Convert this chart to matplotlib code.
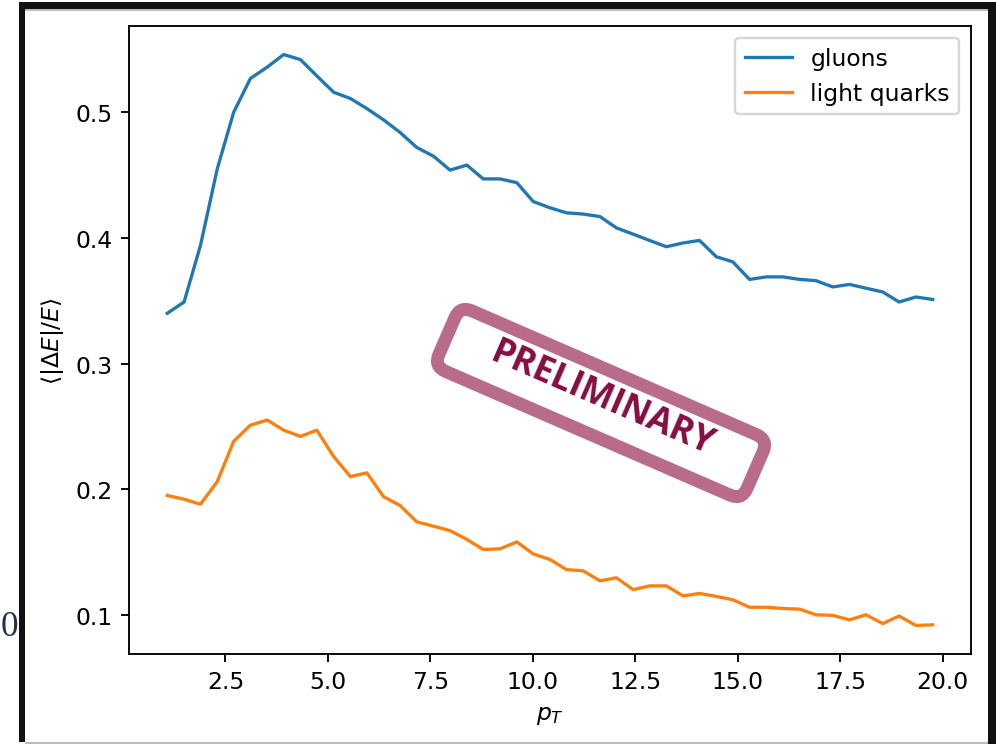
import numpy as np
import matplotlib
matplotlib.use("Agg")
import matplotlib.pyplot as plt
from matplotlib.patches import FancyBboxPatch, Rectangle
from matplotlib.transforms import Affine2D

# ─────────────────────────────────────────────
# DATA  (mean relative energy loss per pT bin)
# ─────────────────────────────────────────────

pt_bins = [1.08, 1.49, 1.89, 2.30, 2.70, 3.11, 3.52, 3.92, 4.33, 4.73,
           5.14, 5.55, 5.95, 6.36, 6.76, 7.17, 7.58, 7.98, 8.39, 8.79,
           9.20, 9.61, 10.01, 10.42, 10.82, 11.23, 11.64, 12.04, 12.45, 12.85,
           13.26, 13.67, 14.07, 14.48, 14.88, 15.29, 15.70, 16.10, 16.51, 16.91,
           17.32, 17.73, 18.13, 18.54, 18.94, 19.35, 19.76]

gluons = [0.340, 0.349, 0.394, 0.455, 0.500, 0.527, 0.536, 0.546, 0.542, 0.529,
          0.516, 0.511, 0.503, 0.494, 0.484, 0.472, 0.465, 0.454, 0.458, 0.447,
          0.447, 0.444, 0.429, 0.424, 0.420, 0.419, 0.417, 0.408, 0.403, 0.398,
          0.393, 0.396, 0.398, 0.385, 0.381, 0.367, 0.369, 0.369, 0.367, 0.366,
          0.361, 0.363, 0.360, 0.357, 0.349, 0.353, 0.351]

light_quarks = [0.195, 0.192, 0.188, 0.206, 0.238, 0.251, 0.255, 0.247, 0.242, 0.247,
                0.226, 0.210, 0.213, 0.194, 0.187, 0.174, 0.1705, 0.167, 0.160, 0.152,
                0.1525, 0.158, 0.1485, 0.144, 0.136, 0.135, 0.127, 0.1295, 0.120, 0.123,
                0.123, 0.115, 0.117, 0.1146, 0.112, 0.106, 0.106, 0.105, 0.1045, 0.100,
                0.0995, 0.096, 0.100, 0.093, 0.099, 0.0915, 0.092]

# ─────────────────────────────────────────────
# FIGURE
# ─────────────────────────────────────────────

DPI = 169
W, H = 996, 745

fig = plt.figure(figsize=(W / DPI, H / DPI), dpi=DPI)
fig.patch.set_facecolor("white")

ax = fig.add_axes([129 / W, (H - 655) / H, 842 / W, 628 / H])
ax.plot(pt_bins, gluons, label="gluons", lw=1.4)
ax.plot(pt_bins, light_quarks, label="light quarks", lw=1.4)
ax.set_xlabel(r"$p_T$")
ax.set_ylabel(r"$\langle |\Delta E|/E \rangle$")
ax.legend(loc="upper right")

# pixel-space transform (origin top-left)
pix = Affine2D().scale(1, -1).translate(0, H).scale(1 / DPI) + fig.dpi_scale_trans


def frame_rect(x0, y0, x1, y1, color):
    fig.add_artist(Rectangle((x0, y0), x1 - x0, y1 - y0, transform=pix,
                             facecolor=color, edgecolor="none", zorder=5))


# window border around the plot
frame_rect(19, 3, W, 10, "#111111")
frame_rect(19, 3, 25, 743, "#111111")
frame_rect(988, 3, W, H, "#111111")
frame_rect(25, 10, 988, 11.5, "#bbbbbb")
frame_rect(25, 742.5, 988, H, "#bbbbbb")

fig.text(0.5 / W, (H - 628) / H, "0", ha="left", va="center",
         family="Liberation Serif", fontsize=15, color="#1f2f4f")

# ── "PRELIMINARY" stamp ──────────────────────
angle = -23.5
cx, cy = 601, 404
stamp_tr = (Affine2D().rotate_deg(angle).translate(cx, H - cy).scale(1 / DPI)
            + fig.dpi_scale_trans)
stamp = FancyBboxPatch((-168, -33), 336, 66,
                       boxstyle="round,pad=0,rounding_size=13",
                       transform=stamp_tr, facecolor="none",
                       edgecolor="#b96b8b", linewidth=5.5, zorder=6)
fig.add_artist(stamp)
fig.text(602 / W, (H - 400) / H, "PRELIMINARY", rotation=angle,
         rotation_mode="anchor", ha="center", va="center",
         family="Open Sans", fontweight="bold", fontsize=15,
         color="#850d41", zorder=7)

fig.savefig("out.png", dpi=DPI)
